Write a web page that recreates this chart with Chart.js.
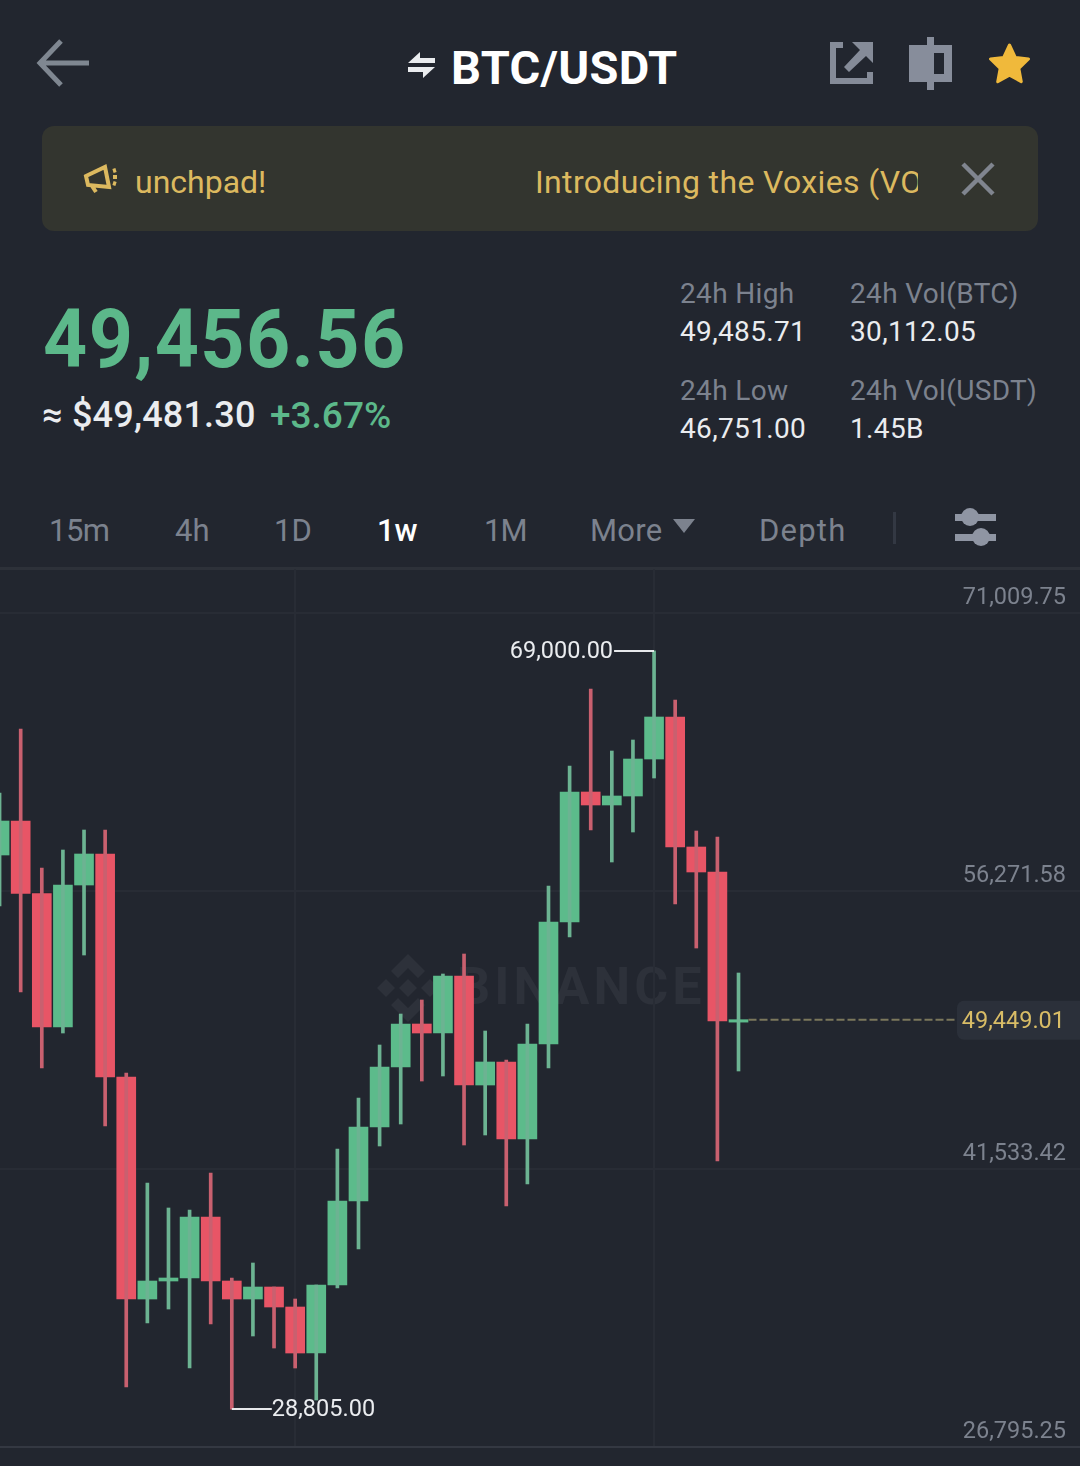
<!DOCTYPE html>
<html>
<head>
<meta charset="utf-8">
<title>BTC/USDT</title>
<script src="https://cdn.jsdelivr.net/npm/chart.js@4"></script>
<style>
  html, body { margin: 0; padding: 0; background: #22262f; }
  body { position: relative; width: 1080px; height: 1466px; overflow: hidden; font-family: Roboto, sans-serif; }
  .t { position: absolute; white-space: nowrap; line-height: 1; }
  .grey { color: #7c828e; }
  .white { color: #eaecef; }
  .green { color: #5cb88a; }
  .gold { color: #dcb95f; }
  .stat { font-size: 28px; letter-spacing: 0.35px; }
  svg { position: absolute; }
  #banner { position: absolute; left: 42px; top: 126px; width: 996px; height: 105px; border-radius: 12px; background: #33352f; }
  #rule { position: absolute; left: 0; top: 567px; width: 1080px; height: 3px; background: #2d3139; }
  #mark { position: absolute; left: 363px; top: 952px; }
  #markText { left: 457px; top: 961px; font-size: 52px; font-weight: 700; letter-spacing: 4px; color: #2d313a; }
  #wrap { position: absolute; left: 0; top: 569px; width: 1080px; height: 897px; }
</style>
</head>
<body>

<svg style="left:34px;top:36px" width="58" height="54" viewBox="0 0 58 54" fill="none" stroke="#7f8791" stroke-width="5"><path d="M27 5 L6 27 L27 49 M6 27 H55"/></svg>
<svg style="left:406px;top:50px" width="30" height="30" viewBox="0 0 30 30" fill="#eaecef"><path d="M2 13 L14 2 V8 H29 V13 Z"/><path d="M2 17 H29 L17 28 V22 H2 Z"/></svg>
<div class="t" style="left:451px;top:44px;font-size:47px;font-weight:700;color:#fff;letter-spacing:0.3px">BTC/USDT</div>
<svg style="left:828px;top:40px" width="48" height="46" viewBox="0 0 48 46" fill="#858b98"><path d="M2 2 H15 V8 H8 V38 H39 V32 H45 V44 H2 Z"/><path d="M24 2 H45 V23 L38 16 L21 32 L16 27 L32 10 Z"/></svg>
<svg style="left:906px;top:36px" width="48" height="56" viewBox="0 0 48 56"><path fill="#878d9b" d="M21 1 H28 V9 H46 V46 H28 V54 H21 V46 H3 V9 H21 Z"/><rect x="28" y="17" width="10" height="21" fill="#22262f"/></svg>
<svg style="left:988px;top:42px" width="44" height="44" viewBox="0 0 44 44"><path fill="#f0b93b" stroke="#f0b93b" stroke-width="3" stroke-linejoin="round" d="M21.500 3 L27.300 15.400 L40.500 17 L30.800 26.300 L33.300 39.700 L21.500 33.100 L9.700 39.700 L12.200 26.300 L2.500 17 L15.700 15.400 Z"/></svg>

<div id="banner"></div>
<svg style="left:83px;top:163px" width="38" height="32" viewBox="0 0 38 32" fill="none" stroke="#dcb95f" stroke-width="4"><path d="M3 13 L22 4 L26 24 L5 22 Z M9 23 L13 29 M30 8 L33 7 M30 14 L34 14 M30 20 L33 21"/></svg>
<div class="t gold" style="left:135px;top:166px;font-size:32px">unchpad!</div>
<div class="t gold" style="left:535px;top:166px;font-size:32px;letter-spacing:0.35px;width:383px;overflow:hidden;padding-bottom:6px">Introducing the Voxies (VOXEL)</div>
<svg style="left:958px;top:160px" width="40" height="38" viewBox="0 0 40 38" stroke="#80858f" stroke-width="4.500"><path d="M5 4 L35 34 M35 4 L5 34"/></svg>

<div class="t green" style="left:43px;top:298px;font-size:82px;font-weight:700;letter-spacing:1.500px;transform:scaleX(0.94);transform-origin:left">49,456.56</div>
<div class="t white" style="left:42px;top:397px;font-size:36px;font-weight:500;letter-spacing:0.2px">≈ $49,481.30</div>
<div class="t green" style="left:270px;top:397px;font-size:37px;font-weight:500">+3.67%</div>

<div class="t grey stat" style="left:680px;top:280px">24h High</div>
<div class="t grey stat" style="left:850px;top:280px">24h Vol(BTC)</div>
<div class="t white stat" style="left:680px;top:318px">49,485.71</div>
<div class="t white stat" style="left:850px;top:318px">30,112.05</div>
<div class="t grey stat" style="left:680px;top:377px">24h Low</div>
<div class="t grey stat" style="left:850px;top:377px">24h Vol(USDT)</div>
<div class="t white stat" style="left:680px;top:415px">46,751.00</div>
<div class="t white stat" style="left:850px;top:415px">1.45B</div>

<div class="t grey" style="left:49px;top:515px;font-size:31px;letter-spacing:-0.5px">15m</div>
<div class="t grey" style="left:175px;top:515px;font-size:31px">4h</div>
<div class="t grey" style="left:274px;top:515px;font-size:31px">1D</div>
<div class="t white" style="left:377px;top:515px;font-size:31px;font-weight:500;color:#fff">1w</div>
<div class="t grey" style="left:484px;top:515px;font-size:31px;letter-spacing:-1px">1M</div>
<div class="t grey" style="left:590px;top:515px;font-size:31px;letter-spacing:0.3px">More</div>
<svg style="left:672px;top:518px" width="24" height="16" viewBox="0 0 24 16"><path fill="#7c828e" d="M1 1 H23 L12 15 Z"/></svg>
<div class="t grey" style="left:759px;top:515px;font-size:31px;letter-spacing:1.2px">Depth</div>
<svg style="left:890px;top:510px" width="8" height="36"><rect x="3" y="2" width="3" height="32" fill="#333843"/></svg>
<svg style="left:952px;top:506px" width="48" height="44" viewBox="0 0 48 44" fill="#8f95a3"><rect x="3" y="8" width="41" height="7"/><circle cx="18" cy="11" r="9"/><rect x="3" y="28" width="41" height="7"/><circle cx="29" cy="31" r="9"/></svg>

<div id="rule"></div>

<svg id="mark" width="90" height="72" viewBox="0 0 90 72" fill="#2d313a"><path d="M45 2 L62 19 L55 26 L45 16 L35 26 L28 19 Z"/><path d="M45 70 L28 53 L35 46 L45 56 L55 46 L62 53 Z"/><path d="M14 36 L23 27 L32 36 L23 45 Z"/><path d="M45 27 L54 36 L45 45 L36 36 Z"/><path d="M76 36 L67 27 L58 36 L67 45 Z"/></svg>
<div id="markText" class="t">BINANCE</div>

<div id="wrap"><canvas id="kline"></canvas></div>

<script>
// weekly candles, left to right
const opens  = [58180, 59982, 56139, 49061, 56589, 58233, 46411, 34641, 35595, 35755, 38988, 35595, 34641, 35277, 34217, 31778, 35383, 39837, 43760, 46941, 49220, 48743, 51765, 45986, 47206, 43124, 48160, 54628, 61520, 60831, 61308, 63269, 65496, 58604, 57279, 49320];
const closes = [59982, 56139, 49061, 56589, 58233, 46411, 34641, 35595, 35755, 38988, 35595, 34641, 35277, 34217, 31778, 35383, 39837, 43760, 46941, 49220, 48743, 51765, 45986, 47206, 43124, 48160, 54628, 61520, 60831, 61308, 63269, 65496, 58604, 57279, 49379, 49449];
const highs  = [61467, 64860, 57491, 58445, 59505, 59505, 46623, 40791, 39466, 39360, 41321, 35755, 36550, 35277, 34641, 35383, 42593, 45297, 48107, 49750, 50493, 51871, 52931, 48849, 47312, 49220, 56536, 62898, 66980, 63693, 64277, 69000, 66397, 59452, 59134, 51924];
const lows   = [55476, 50917, 46888, 48743, 52878, 43813, 29976, 33369, 34111, 30983, 33316, 28805, 32680, 32043, 30983, 29287, 35224, 37292, 42753, 43919, 46198, 46464, 42806, 43336, 39572, 40738, 46888, 53833, 59505, 57809, 59399, 62262, 55582, 53249, 41957, 46729];

const priceTicks = [71009.75, 56271.58, 41533.42, 26795.25];
const timeGrid = [14, 31];
const lastPrice = 49449.01;
const highMark = { index: 31, price: 69000 };
const lowMark = { index: 11, price: 28805 };

const UP = "#5cbb8b", DOWN = "#e85566", UP_WICK = "#6cb392", DOWN_WICK = "#c9606f";
const LABEL_FONT = "23.5px Roboto";
const fmt = v => v.toLocaleString("en-US", { minimumFractionDigits: 2, maximumFractionDigits: 2 });

const candlePoints = (a, b) => opens.map((_, i) => ({ x: i, y: [a[i], b[i]] }));
const isUp = i => closes[i] >= opens[i];

// price tag, high/low callouts
const overlay = {
  id: "overlay",
  afterDatasetsDraw(chart) {
    const { ctx, scales: { x, y } } = chart;
    const py = y.getPixelForValue(lastPrice);
    ctx.save();
    ctx.strokeStyle = "#7b775c";
    ctx.lineWidth = 2;
    ctx.setLineDash([8, 3]);
    ctx.beginPath();
    ctx.moveTo(x.getPixelForValue(opens.length - 1) + 10, py);
    ctx.lineTo(957, py);
    ctx.stroke();
    ctx.setLineDash([]);

    ctx.fillStyle = "#2b303a";
    ctx.beginPath();
    ctx.roundRect(957, py - 19, 130, 39, 7);
    ctx.fill();

    ctx.font = LABEL_FONT;
    ctx.textBaseline = "middle";
    ctx.textAlign = "right";
    ctx.fillStyle = "#d8bc66";
    ctx.fillText(fmt(lastPrice), 1065, py + 2);

    ctx.strokeStyle = "#e6e8eb";
    ctx.lineWidth = 2;
    ctx.fillStyle = "#eaecef";

    const hx = x.getPixelForValue(highMark.index), hy = y.getPixelForValue(highMark.price);
    ctx.beginPath();
    ctx.moveTo(hx, hy);
    ctx.lineTo(hx - 40, hy);
    ctx.stroke();
    ctx.fillText(fmt(highMark.price), hx - 41, hy + 1);

    const lx = x.getPixelForValue(lowMark.index), ly = y.getPixelForValue(lowMark.price);
    ctx.beginPath();
    ctx.moveTo(lx, ly);
    ctx.lineTo(lx + 40, ly);
    ctx.stroke();
    ctx.textAlign = "left";
    ctx.fillText(fmt(lowMark.price), lx + 40, ly + 1);
    ctx.restore();
  },
};

new Chart(document.getElementById("kline"), {
  data: {
    datasets: [
      {
        type: "bar",
        label: "Range",
        data: candlePoints(lows, highs),
        grouped: false,
        barThickness: 3,
        backgroundColor: opens.map((_, i) => (isUp(i) ? UP_WICK : DOWN_WICK)),
      },
      {
        type: "bar",
        label: "Body",
        data: candlePoints(opens, closes),
        grouped: false,
        barThickness: 19,
        backgroundColor: opens.map((_, i) => (isUp(i) ? UP : DOWN)),
      },
    ],
  },
  options: {
    responsive: true,
    maintainAspectRatio: false,
    animation: false,
    layout: { padding: { left: 0, right: 0, top: 0, bottom: 19 } },
    plugins: { legend: { display: false }, tooltip: { enabled: false } },
    scales: {
      x: {
        type: "linear",
        offset: false,
        min: 0.02,
        max: 51.175,
        afterBuildTicks: s => { s.ticks = timeGrid.map(value => ({ value })); },
        ticks: { display: false },
        grid: { offset: false, color: "#282c35", lineWidth: 2, drawTicks: false },
        border: { display: false },
      },
      y: {
        position: "right",
        min: 26795.25,
        max: 73342.4,
        afterFit: s => { s.width = 0; s.paddingTop = 0; s.paddingBottom = 0; },
        afterBuildTicks: s => { s.ticks = priceTicks.map(value => ({ value })); },
        ticks: {
          mirror: true,
          padding: -14,
          labelOffset: -15,
          color: "#7c828e",
          font: { family: "Roboto", size: 23.5 },
          callback: v => fmt(v),
        },
        grid: {
          color: c => (c.tick && c.tick.value === priceTicks[3] ? "#343842" : "#282c35"),
          lineWidth: 2,
          drawTicks: false,
        },
        border: { display: false },
      },
    },
  },
  plugins: [overlay],
});
</script>
</body>
</html>
